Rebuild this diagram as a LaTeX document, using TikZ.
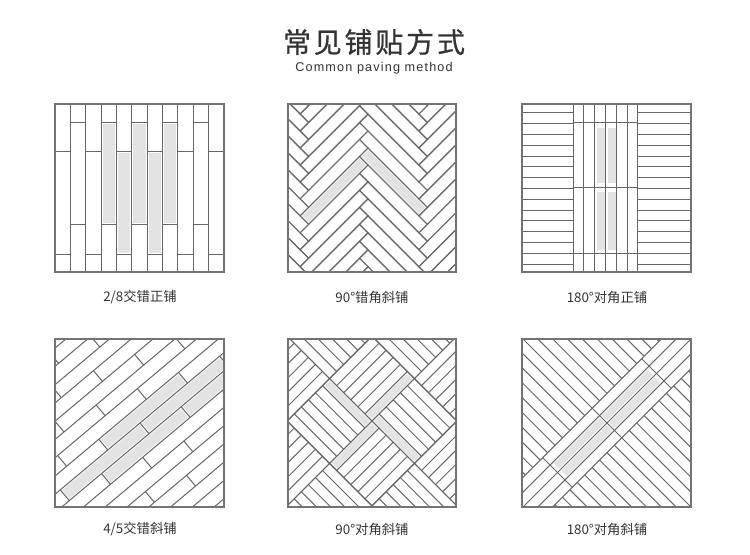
\documentclass[tikz,border=0pt]{standalone}
\usepackage{fontspec}
\newfontfamily\cjk{Noto Sans CJK SC}
\newfontfamily\lat{Liberation Sans}
\begin{document}
\begin{tikzpicture}[x=0.75pt,y=-0.75pt,
  pl/.style={draw=black!60,line width=0.75pt},
  fr/.style={draw=black!55,line width=0.9pt},
  sh/.style={fill=black!11},
  lab/.style={font=\cjk\fontsize{10}{12}\selectfont,text=black!80}]
\useasboundingbox[fill=white] (0,0) rectangle (750,555);
\node (title) at (374,42) {\cjk\fontsize{21}{25}\selectfont\addfontfeature{LetterSpace=10,FakeBold=0.6}\color{black!80}常见铺贴方式};
\node (sub) at (374,68) {\lat\fontsize{9.5}{11}\selectfont\addfontfeature{LetterSpace=9}\color{black!80}Common paving method};
% ---- panel 1
\begin{scope}
\clip (55,104) rectangle (224,272);
\foreach \c in {3,5,7} \fill[sh] ({55+\c*15.36+1.5},124.5) rectangle ({55+(\c+1)*15.36-1.5},223.5);
\foreach \c in {4,6} \fill[sh] ({55+\c*15.36+1.5},153.5) rectangle ({55+(\c+1)*15.36-1.5},253.5);
\foreach \c in {1,...,10} \draw[pl] ({55+\c*15.36},104) -- ({55+\c*15.36},272);
\foreach \c in {0,2,...,10} {\draw[pl] ({55+\c*15.36},152) -- ++(15.36,0); \draw[pl] ({55+\c*15.36},255) -- ++(15.36,0);}
\foreach \c in {1,3,...,9} {\draw[pl] ({55+\c*15.36},123) -- ++(15.36,0); \draw[pl] ({55+\c*15.36},225) -- ++(15.36,0);}
\end{scope}
\draw[fr] (55,104) rectangle (224,272);
\node[lab] (l1) at (140,297) {2/8交错正铺};
% ---- panel 2
\begin{scope}
\clip (288,104) rectangle (456,272);
\begin{scope}[shift={(368,148)},rotate=-45]
\fill[sh] (1.5,1.5) rectangle (82.5,10.5);
\fill[sh] (1.5,13.5) rectangle (10.5,94.5);
\foreach \a in {-10,...,14} \foreach \b in {-3,...,3} {
  \draw[pl] ({\a*12+\b*84},{\a*12-\b*84}) rectangle ++(84,12);
  \draw[pl] ({\a*12+\b*84},{\a*12-\b*84+12}) rectangle ++(12,84);
}
\end{scope}
\end{scope}
\draw[fr] (288,104) rectangle (456,272);
\node[lab] (l2) at (372,297) {90°错角斜铺};
% ---- panel 3
\begin{scope}
\clip (522,104) rectangle (691,272);
\fill[sh] (597,128) rectangle (606,183);
\fill[sh] (608,128) rectangle (616,183);
\fill[sh] (597,192) rectangle (606,250);
\fill[sh] (608,192) rectangle (616,250);
\foreach \i in {0,...,14} {\draw[pl] (522,{113+\i*10.8}) -- (573,{113+\i*10.8}); \draw[pl] (638,{113+\i*10.8}) -- (691,{113+\i*10.8});}
\foreach \i in {0,...,6} \draw[pl] ({573+\i*10.83},104) -- ({573+\i*10.83},272);
\foreach \y in {123,188,254} \draw[pl] (573,\y) -- (638,\y);
\end{scope}
\draw[fr] (522,104) rectangle (691,272);
\node[lab] (l3) at (607,297) {180°对角正铺};
% ---- panel 4
\begin{scope}
\clip (55,339) rectangle (224,507);
\begin{scope}[shift={(140,423)},rotate=40]
\fill[sh] (-40.5,-12.5) rectangle (60.5,-1.5);
\fill[sh] (-102.5,1.5) rectangle (-1.5,12.5);
\fill[sh] (1.5,1.5) rectangle (102.5,12.5);
\fill[sh] (-60.5,15.5) rectangle (40.5,26.5);
\fill[sh] (43.5,15.5) rectangle (100,26.5);
\foreach \r in {-10,...,10} {
  \draw[pl] (-200,{\r*14}) -- (200,{\r*14});
  \pgfmathsetmacro\off{mod(\r*42+1040,104)}
  \foreach \k in {-3,...,3} \draw[pl] ({\k*104+\off},{\r*14}) -- ++(0,14);
}
\end{scope}
\end{scope}
\draw[fr] (55,339) rectangle (224,507);
\node[lab] (l4) at (140,529) {4/5交错斜铺};
% ---- panel 5
\begin{scope}
\clip (288,339) rectangle (456,507);
\begin{scope}[shift={(372,421)},rotate=45]
\fill[sh] (1.5,1.5) rectangle (8.5,58.5);
\fill[sh] (-58.5,1.5) rectangle (-1.5,8.5);
\fill[sh] (-8.5,-58.5) rectangle (-1.5,-1.5);
\fill[sh] (1.5,-8.5) rectangle (58.5,-1.5);
\foreach \i in {-3,...,2} \foreach \j in {-3,...,2} {
  \draw[pl] ({\i*60},{\j*60}) rectangle ++(60,60);
  \pgfmathtruncatemacro\myparity{mod(\i+\j+10,2)}
  \ifnum\myparity=0
    \foreach \k in {1,...,5} \draw[pl] ({\i*60+\k*10},{\j*60}) -- ++(0,60);
  \else
    \foreach \k in {1,...,5} \draw[pl] ({\i*60},{\j*60+\k*10}) -- ++(60,0);
  \fi
}
\end{scope}
\end{scope}
\draw[fr] (288,339) rectangle (456,507);
\node[lab] (l5) at (372,529) {90°对角斜铺};
% ---- panel 6
\begin{scope}
\clip (522,339) rectangle (691,507);
\begin{scope}[shift={(607,423)},rotate=45]
\fill[sh] (-66,-9) rectangle (-1.5,-1.5);
\fill[sh] (1.5,-9) rectangle (66,-1.5);
\fill[sh] (-66,1.5) rectangle (-1.5,9);
\fill[sh] (1.5,1.5) rectangle (66,9);
\foreach \y in {-21,-10.5,0,10.5,21} \draw[pl] (-150,\y) -- (150,\y);
\foreach \x in {-70,0,70} \draw[pl] (\x,-21) -- (\x,21);
\foreach \k in {-14,...,14} {\draw[pl] ({\k*10.5},21) -- ({\k*10.5},150); \draw[pl] ({\k*10.5},-21) -- ({\k*10.5},-150);}
\end{scope}
\end{scope}
\draw[fr] (522,339) rectangle (691,507);
\node[lab] (l6) at (607,529) {180°对角斜铺};
\end{tikzpicture}
\end{document}
